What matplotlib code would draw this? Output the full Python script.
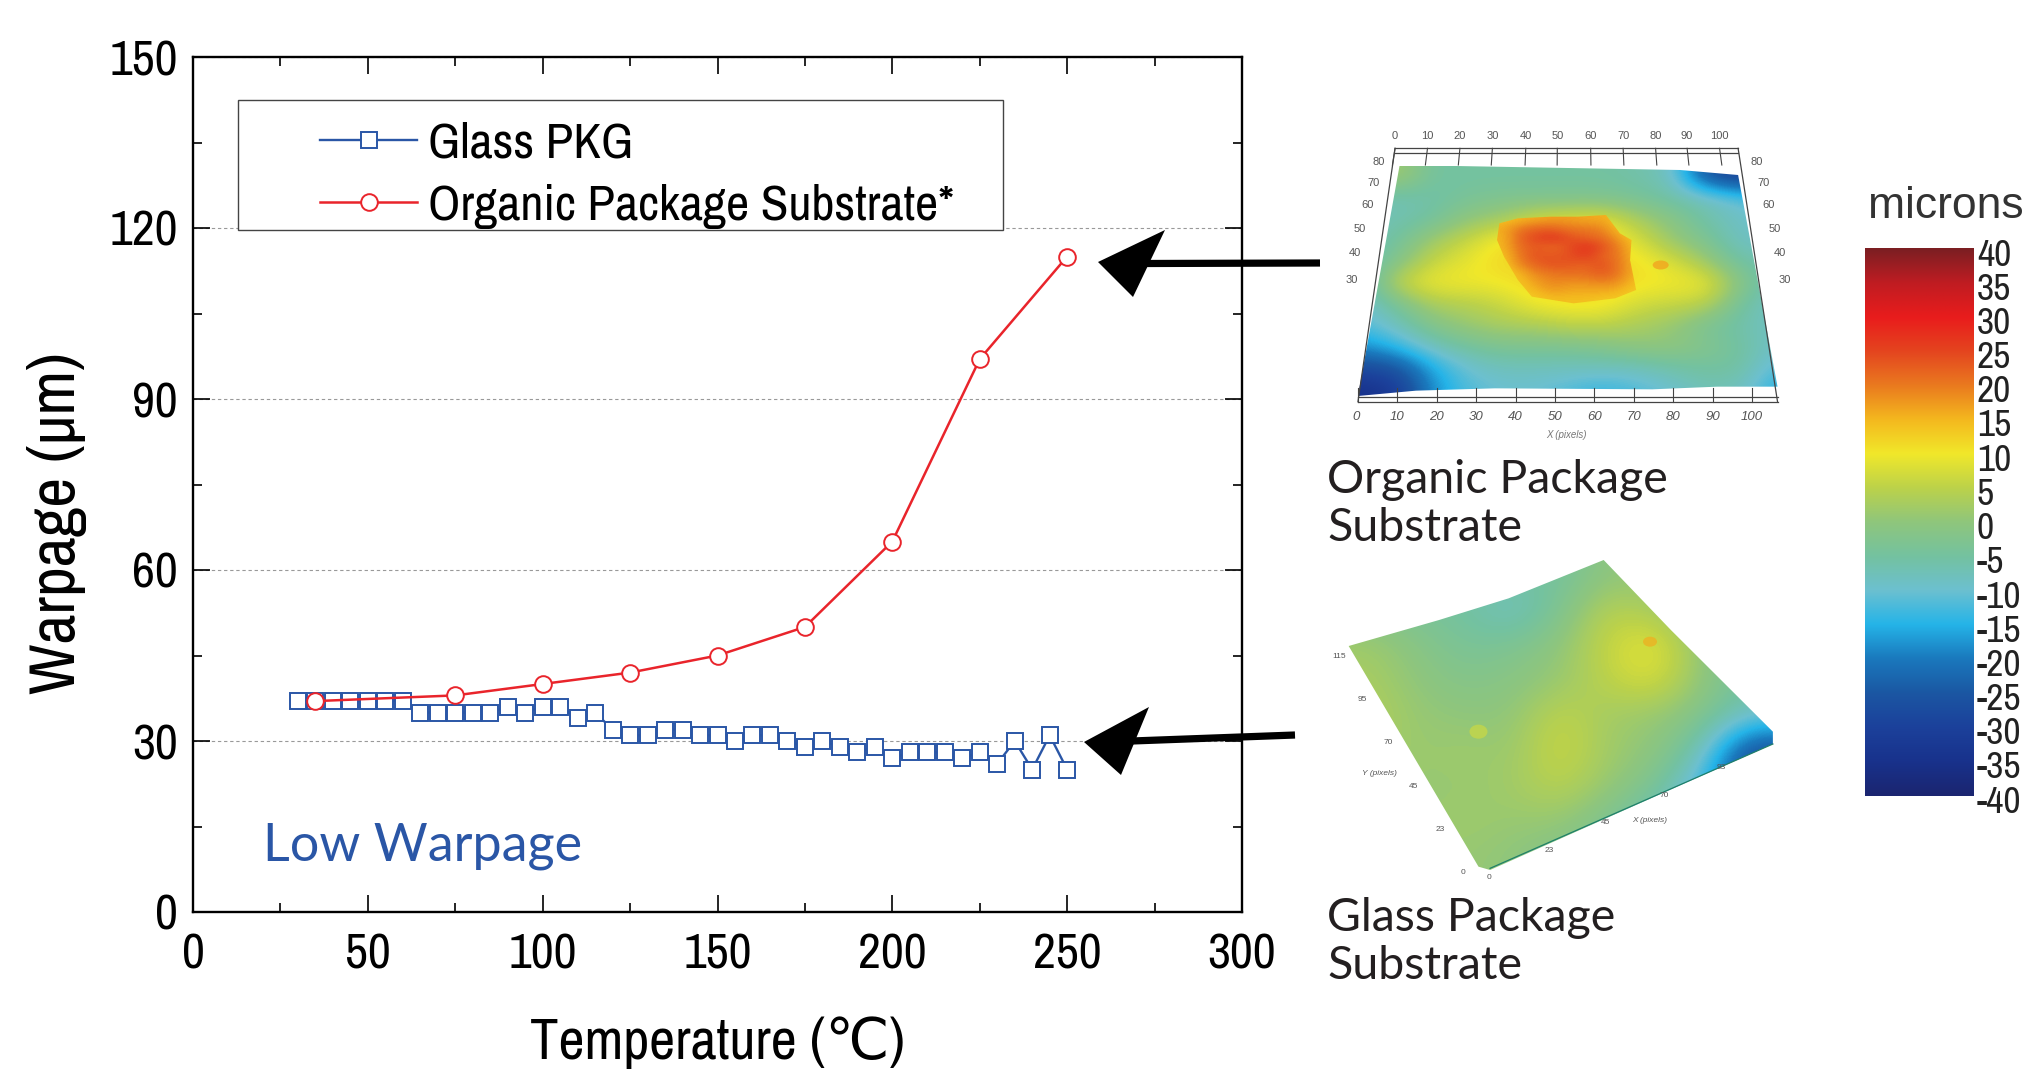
import numpy as np
import matplotlib
matplotlib.use("Agg")
import matplotlib.pyplot as plt
from matplotlib.colors import LinearSegmentedColormap
from matplotlib.patches import Polygon, Rectangle, Ellipse
from matplotlib.ticker import MultipleLocator

W, H = 2027, 1077
FONT = ['Archivo Narrow', 'Liberation Sans', 'DejaVu Sans']
plt.rcParams['font.family'] = FONT

# ---- chart data
glass_temp = [30, 35, 40, 45, 50, 55, 60, 65, 70, 75, 80, 85, 90, 95, 100, 105, 110, 115, 120, 125, 130, 135, 140,
              145, 150, 155, 160, 165, 170, 175, 180, 185, 190, 195, 200, 205, 210, 215, 220, 225, 230, 235, 240,
              245, 250]
glass_warpage = [37, 37, 37, 37, 37, 37, 37, 35, 35, 35, 35, 35, 36, 35, 36, 36, 34, 35, 32, 31, 31, 32, 32,
                 31, 31, 30, 31, 31, 30, 29, 30, 29, 28, 29, 27, 28, 28, 28, 27, 28, 26, 30, 25,
                 31, 25]
organic_temp = [35, 75, 100, 125, 150, 175, 200, 225, 250]
organic_warpage = [37, 38, 40, 42, 45, 50, 65, 97, 115]
x_ticks = [0, 50, 100, 150, 200, 250, 300]
y_ticks = [0, 30, 60, 90, 120, 150]
series_names = ['Glass PKG', 'Organic Package Substrate*']

# ---- colour scale of the maps
scale_values = [40, 35, 30, 25, 20, 15, 10, 5, 0, -5, -10, -15, -20, -25, -30, -35, -40]
scale_colors = ['#7c1f22', '#c01c22', '#e91c1c', '#e4451f', '#ea7a1f', '#f4b81e', '#f1e82a', '#bcd24a',
                '#8fc67c', '#74c2a0', '#6cc0d0', '#25b4e8', '#1a79bd', '#1b57a3', '#1c419b', '#18328c', '#1b2570']
scale_labels = ['40', '35', '30', '25', '20', '15', '10', '5', '0', '-5', '-10', '-15', '-20', '-25', '-30', '-35', '-40']

# ---- surface heights (coarse cells)
organic_map = [
    [0, 3, -5, -5, -5, -5, -5, -5, -6, -8, -26, -30, -30],
    [-7, -7, -6, -4, -3, -3, -3, -3, -4, -6, -8, -11, -14],
    [-7, -7, -5, 0, 2, 7, 8, 9, 3, -1, -6, -9, -9],
    [-8, -5, 2, 6, 11, 12, 12, 12, 8, 1, -3, -9, -9],
    [-8, -2, 6, 9, 12, 12, 12, 12, 11, 8, 2, -6, -6],
    [-9, 6, 10, 10, 10, 12, 12, 12, 11, 10, 10, -1, -8],
    [-10, -4, 3, 4, 6, 10, 11, 11, 7, 6, 5, -5, -9],
    [-12, -8, -2, 1, 3, 3, 5, 5, 3, 1, -4, -6, -9],
    [-18, -14, -8, -5, -3, -3, -3, -2, 0, 0, -2, -5, -9],
    [-28, -26, -16, -10, -8, -8, -8, -8, -8, -6, -5, -5, -12],
    [-35, -32, -18, -12, -10, -10, -12, -14, -12, -10, -7, -8, -15],
]
organic_peak = [
    [14, 15, 16, 17, 17, 16, 16, 14, 13],
    [16, 20, 22, 22, 20, 20, 19, 14, 13],
    [15, 22, 25, 27, 24, 22, 21, 17, 13],
    [15, 21, 23, 21, 24, 27, 24, 19, 14],
    [14, 20, 24, 23, 24, 26, 22, 20, 14],
    [13, 19, 22, 24, 23, 22, 24, 20, 15],
    [13, 15, 19, 20, 21, 21, 23, 20, 15],
    [13, 14, 17, 19, 18, 18, 19, 18, 14],
    [12, 13, 15, 17, 16, 16, 16, 15, 13],
    [12, 12, 13, 14, 14, 14, 13, 13, 12],
]
glass_map = [
    [-2, -4, -5, -5, -5, 0, 0, 0, 0],
    [-2, -4, -5, -9, -3, 5, 3, -2, -4],
    [2, -1, -4, -3, 0, 6, 10, 0, -5],
    [3, 0, -2, -1, 1, 5, 8, 0, -5],
    [4, 1, 0, 0, 6, 2, 1, -2, -9],
    [3, 1, 2, 1, 7, 2, 0, -7, -28],
    [2, 1, 1, 2, 5, 1, -3, -13, -30],
    [1, 1, 2, 1, 1, -3, -8, -15, -20],
    [1, 1, 1, 0, -2, -4, -8, -10, -10],
]

fig = plt.figure(figsize=(W / 100, H / 100), dpi=100, facecolor='white')

# ---- main chart
L, R, T, B = 193, 1242, 57, 912
ax = fig.add_axes([L / W, 1 - B / H, (R - L) / W, (B - T) / H])
ax.set_xlim(0, 300)
ax.set_ylim(0, 150)
ax.set_xticks(x_ticks)
ax.set_yticks(y_ticks)
ax.xaxis.set_minor_locator(MultipleLocator(25))
ax.yaxis.set_minor_locator(MultipleLocator(15))
ax.tick_params(which='major', direction='in', length=12, width=1.2, top=True, right=True, labelsize=36)
ax.tick_params(axis='x', which='major', pad=15)
ax.tick_params(axis='y', which='major', pad=11)
ax.tick_params(which='minor', direction='in', length=6.5, width=1.2, top=True, right=True)
for s in ax.spines.values():
    s.set_linewidth(1.7)
ax.grid(axis='y', which='major', color='#999999', ls=(0, (3, 2.5)), lw=0.8)
ax.set_axisbelow(True)
blue, red = '#2a56a6', '#e9242b'
l1, = ax.plot(glass_temp, glass_warpage, '-s', color=blue, lw=1.7, ms=11, mfc='white', mec=blue, mew=1.4,
              label=series_names[0])
l2, = ax.plot(organic_temp, organic_warpage, '-o', color=red, lw=1.8, ms=12, mfc='white', mec=red, mew=1.4,
              label=series_names[1])
ax.set_xlabel('Temperature (℃)', fontsize=41)
ax.xaxis.set_label_coords(0.5, 1 - (1043 - T) / (B - T), transform=ax.transAxes)
ax.xaxis.label.set_va('center')
ax.set_ylabel('Warpage (μm)', fontsize=47)
ax.yaxis.set_label_coords((57 - L) / (R - L), (B - 523) / (B - T), transform=ax.transAxes)
ax.yaxis.label.set_va('center')
ax.text(20, 11.5, 'Low Warpage', color=blue, fontsize=37.5, va='center', ha='left', family=['Lato', 'Liberation Sans'])
ax.add_patch(Rectangle(((238 - L) / (R - L), (B - 230) / (B - T)), 765 / (R - L), 130 / (B - T), transform=ax.transAxes,
                       fc='white', ec='#444444', lw=1, zorder=4))
leg = ax.legend(handles=[l1, l2], loc='upper left', bbox_to_anchor=((320 - L) / (R - L), (B - 122) / (B - T)),
                fontsize=36.5, frameon=False, borderaxespad=0, borderpad=0, labelspacing=0.33, handlelength=1.92,
                handletextpad=0.22)
leg.set_zorder(5)

# ---- overlay in figure pixels
ov = fig.add_axes([0, 0, 1, 1], facecolor='none')
ov.set_xlim(0, W)
ov.set_ylim(H, 0)
ov.axis('off')

cmap = LinearSegmentedColormap.from_list('microns', list(zip((np.array(scale_values[::-1]) + 40) / 80,
                                                             scale_colors[::-1])))


def z2(x, y):
    return 1300 + x / 2.157, 120 + y / 3


def z3(x, y):
    return 1300 + x / 2.157, 540 + y / 3


SMALL = ['Liberation Sans', 'DejaVu Sans']

# organic surface
x0, y0 = z2(100, 140)
x1, y1 = z2(1060, 840)
im = ov.imshow(organic_map, extent=(x0, x1, y1, y0), cmap=cmap, vmin=-40, vmax=40, interpolation='bicubic', aspect='auto')
im.set_clip_path(Polygon([z2(*p) for p in [(215, 135), (820, 150), (945, 165), (1030, 800), (900, 800), (760, 808),
                                           (420, 805), (250, 812), (125, 828)]], transform=ov.transData))
x0, y0 = z2(420, 285)
x1, y1 = z2(740, 555)
im = ov.imshow(organic_peak, extent=(x0, x1, y1, y0), cmap=cmap, vmin=-40, vmax=40, interpolation='bicubic', aspect='auto')
im.set_clip_path(Polygon([z2(*p) for p in [(430, 310), (470, 295), (540, 290), (600, 290), (660, 285), (690, 340),
                                           (715, 360), (712, 420), (725, 510), (680, 535), (590, 550), (500, 530),
                                           (470, 480), (440, 410), (425, 360)]], transform=ov.transData))
ov.add_patch(Ellipse(z2(778, 435), 16, 9, fc='#f2a51f', ec='none', alpha=0.8))
# wire box
frame = '#444444'
for a, b in [((205, 85), (945, 85)), ((205, 98), (945, 98)), ((205, 85), (125, 845)), ((945, 85), (1030, 845)),
             ((125, 845), (1030, 845)), ((125, 830), (1030, 830))]:
    p, q = z2(*a), z2(*b)
    ov.plot([p[0], q[0]], [p[1], q[1]], color=frame, lw=0.9)
top_ticks = [205, 275, 345, 415, 487, 555, 627, 697, 767, 835, 905]
bot_ticks = [125, 210, 295, 380, 465, 550, 635, 720, 805, 890, 975]
for i, (a, b) in enumerate(zip(top_ticks, bot_ticks)):
    p, q = z2(a, 85), z2(a + (b - a) * 0.07, 135)
    ov.plot([p[0], q[0]], [p[1], q[1]], color=frame, lw=0.8)
    p, q = z2(b, 845), z2(b, 805)
    ov.plot([p[0], q[0]], [p[1], q[1]], color=frame, lw=0.8)
    lab = str(i * 10)
    ov.text(*z2(a, 48), lab, fontsize=8, color='#555555', ha='center', va='center', family=SMALL)
    ov.text(*z2(b - 5 if i == 0 else b, 892), lab, fontsize=9.5, color='#555555', ha='center', va='center',
            style='italic', family=SMALL)
for lab, yy, xl, xr in [('80', 125, 170, 985), ('70', 188, 158, 1000), ('60', 255, 145, 1010), ('50', 328, 128, 1025),
                        ('40', 400, 118, 1035), ('30', 480, 112, 1045)]:
    ov.text(*z2(xl, yy), lab, fontsize=8, color='#555555', ha='center', va='center', family=SMALL)
    ov.text(*z2(xr, yy), lab, fontsize=8, color='#555555', ha='center', va='center', family=SMALL)
ov.text(*z2(575, 945), 'X (pixels)', fontsize=7, color='#777777', ha='center', va='center', style='italic', family=SMALL)

# glass surface
x0, y0 = z3(100, 60)
x1, y1 = z3(1020, 1000)
glass_clip = Polygon([z3(*p) for p in [(105, 318), (300, 240), (450, 175), (655, 60), (800, 270), (1020, 575),
                                       (1020, 612), (410, 990), (385, 980)]], transform=ov.transData)
im = ov.imshow(glass_map, extent=(x0, x1, y1, y0), cmap=cmap, vmin=-40, vmax=40, interpolation='bicubic', aspect='auto')
im.set_clip_path(glass_clip)
ov.add_patch(Ellipse(z3(755, 305), 14, 10, fc='#eeb020', ec='none', alpha=0.75))
ov.add_patch(Ellipse(z3(385, 575), 18, 14, fc='#d4dc3a', ec='none', alpha=0.6))
p, q = z3(410, 985), z3(1020, 612)
ov.plot([p[0], q[0]], [p[1], q[1]], color='#1f7f6a', lw=0.9)
for lab, xx, yy in [('115', 85, 350), ('95', 135, 478), ('70', 190, 607), ('45', 245, 738), ('23', 303, 868), ('0', 352, 996)]:
    ov.text(*z3(xx, yy), lab, fontsize=6, color='#555555', ha='center', va='center', family=SMALL)
for lab, xx, yy in [('0', 408, 1012), ('23', 538, 930), ('45', 660, 847), ('70', 785, 767), ('93', 908, 682)]:
    ov.text(*z3(xx, yy), lab, fontsize=6, color='#555555', ha='center', va='center', family=SMALL)
ov.text(*z3(172, 700), 'Y (pixels)', fontsize=6, style='italic', color='#555555', ha='center', va='center', family=SMALL)
ov.text(*z3(755, 840), 'X (pixels)', fontsize=6, style='italic', color='#555555', ha='center', va='center', family=SMALL)

# colour bar
grad = np.linspace(40, -40, 256).reshape(-1, 1)
ov.imshow(grad, extent=(1865, 1974, 796, 248), cmap=cmap, vmin=-40, vmax=40, aspect='auto', interpolation='bilinear')
ov.set_xlim(0, W)
ov.set_ylim(H, 0)
for i, lab in enumerate(scale_labels):
    ov.text(1977, 255 + i * 34.2, lab, fontsize=27, color='#222222', ha='left', va='center')
ov.text(1868, 207, 'microns', fontsize=32, color='#333333', ha='left', va='center', family=SMALL)

# captions
cap = dict(fontsize=33.5, color='#231f20', linespacing=1.2, ha='left', va='center', family=['Lato', 'Liberation Sans'])
ov.text(1327, 504, 'Organic Package\nSubstrate', **cap)
ov.text(1327, 942, 'Glass Package\nSubstrate', **cap)


# arrows
def arrow(tip, top, bot, tail):
    mx, my = (top[0] + bot[0]) / 2, (top[1] + bot[1]) / 2
    ov.add_patch(Polygon([tip, top, (mx, my), bot], closed=True, color='black', lw=0, zorder=6))
    ov.plot([mx - 3, tail[0]], [my, tail[1]], color='black', lw=5.2, solid_capstyle='butt', zorder=6)


arrow((1098, 262), (1165, 230), (1133, 297), (1320, 263))
arrow((1084, 742), (1149, 707), (1121, 775), (1295, 735))

fig.savefig('out.png', dpi=100)
